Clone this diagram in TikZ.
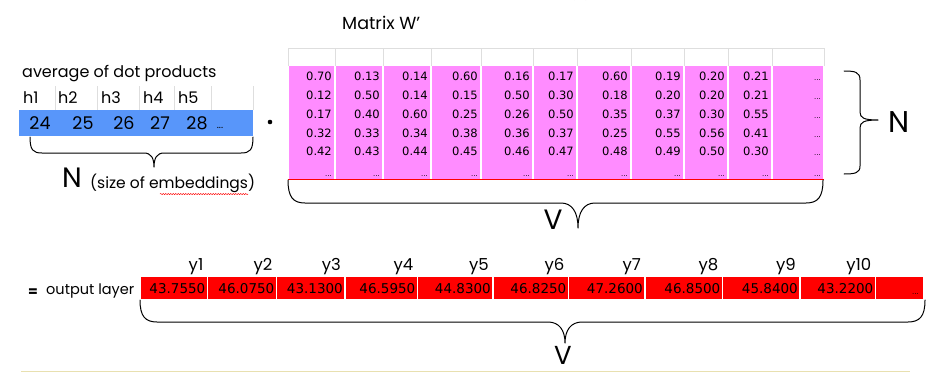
\documentclass[tikz,border=0pt]{standalone}
\usepackage{fontspec}
\usetikzlibrary{decorations.pathmorphing}
\setmainfont{Poppins}
\newfontfamily\numfont{DejaVu Sans}
\definecolor{pinkc}{RGB}{255,140,255}
\definecolor{bluec}{RGB}{88,150,250}
\definecolor{gridc}{RGB}{222,222,222}
\definecolor{rulec}{RGB}{232,224,176}
\begin{document}
\begin{tikzpicture}[x=1pt,y=-1pt,
  mnum/.style={font=\numfont\fontsize{11.5}{12}\selectfont, anchor=east, inner sep=0pt},
  mdots/.style={font=\numfont\fontsize{7}{8}\selectfont, anchor=base east, inner sep=0pt},
  onum/.style={font=\numfont\fontsize{13.5}{14}\selectfont, anchor=east, inner sep=0pt},
  ylab/.style={font=\fontsize{16.5}{17}\selectfont, anchor=east, inner sep=0pt},
  lbl/.style={font=\fontsize{16}{17}\selectfont, inner sep=0pt},
  vnum/.style={font=\fontsize{17.5}{18}\selectfont, inner sep=0pt},
  big/.style={font=\fontsize{28}{30}\selectfont, inner sep=0pt},
  bracep/.style={draw, line width=1pt, line cap=round, line join=round}]
\useasboundingbox (0,0) rectangle (936,372);

% ---------- left vector ----------
\node[lbl, anchor=west] (avg) at (22,74) {average of dot products};
\foreach \x in {55,97,139,174,211,253}
  \draw[gridc, line width=0.8pt] (\x,86) -- (\x,110);
\foreach \x/\t [count=\i] in {23/h1,58/h2,101/h3,143/h4,178/h5}
  \node[lbl, anchor=west] (h\i) at (\x,98) {\t};
\fill[bluec] (19,110) rectangle (253,136);
\foreach \x/\t [count=\i] in {40/24,83/25,124/26,160/27,197/28}
  \node[vnum] (v\i) at (\x,123) {\t};
\node[font=\fontsize{10}{11}\selectfont, inner sep=0pt, anchor=base] (vdots) at (220,128) {...};
\fill (270,122) circle (2.3);
\draw[bracep] (30,137) .. controls (30,150) and (33,153) .. (42,153) -- (144,153)
  .. controls (151,153) and (154,158) .. (154,167)
  .. controls (154,158) and (157,153) .. (164,153) -- (241,153)
  .. controls (250,153) and (253,150) .. (253,137);
\node[big, anchor=center] (nleft) at (72,178) {N};
\node[font=\fontsize{15.5}{16}\selectfont, inner sep=0pt, anchor=west] (size) at (90,183) {(size of embeddings)};
\draw[red, line width=0.5pt, decorate, decoration={snake, amplitude=0.6pt, segment length=2.5pt}]
  (size.south west) ++(70,1.5) -- ++(88,0);

% ---------- matrix ----------
\node[font=\fontsize{17.5}{18}\selectfont, inner sep=0pt, anchor=west] (mtitle) at (342,23) {Matrix W'};
\draw[gray!50, line width=0.6pt] (586,0) arc (0:-180:6);
\draw[gridc, line width=0.8pt] (288,48) -- (824,48);
\foreach \x in {288,335,383,431,481,533,577,631,684,728,772,824}
  \draw[gridc, line width=0.8pt] (\x,48) -- (\x,66);
\foreach \l/\r in {288/335,335/383,383/431,431/481,481/533,533/577,577/631,631/684,684/728,728/772,772/824}
  \fill[pinkc] (\l+0.7,66) rectangle (\r-0.7,179);
\draw[red, line width=0.9pt] (288,179) -- (824,179);
\foreach \r/\a/\b/\c/\d/\e [count=\i] in {
  335/0.70/0.12/0.17/0.32/0.42,
  383/0.13/0.50/0.40/0.33/0.43,
  431/0.14/0.14/0.60/0.34/0.44,
  481/0.60/0.15/0.25/0.38/0.45,
  533/0.16/0.50/0.26/0.36/0.46,
  577/0.17/0.30/0.50/0.37/0.47,
  631/0.60/0.18/0.35/0.25/0.48,
  684/0.19/0.20/0.37/0.55/0.49,
  728/0.20/0.20/0.30/0.56/0.50,
  772/0.21/0.21/0.55/0.41/0.30}{
  \node[mnum] (m\i-1) at (\r-3,76) {\a};
  \node[mnum] (m\i-2) at (\r-3,95) {\b};
  \node[mnum] (m\i-3) at (\r-3,114) {\c};
  \node[mnum] (m\i-4) at (\r-3,133) {\d};
  \node[mnum] (m\i-5) at (\r-3,151) {\e};
  \node[mdots] (m\i-6) at (\r-3,176) {...};
}
\foreach \y [count=\j] in {80,99,118,137,155,176}
  \node[mdots] (m11-\j) at (821,\y) {...};
\draw[bracep] (288,180) .. controls (288,197) and (293,203) .. (305,203) -- (561,203)
  .. controls (572,203) and (578,212) .. (578,228)
  .. controls (578,212) and (584,203) .. (595,203) -- (806,203)
  .. controls (818,203) and (823,197) .. (823,180);
\node[big] (vmat) at (553,220) {V};
\draw[bracep] (844,71) .. controls (855,71) and (860,72) .. (860,80) -- (860,112)
  .. controls (860,118) and (864,120) .. (878,120)
  .. controls (864,120) and (860,122) .. (860,128) -- (860,166)
  .. controls (860,173) and (855,174) .. (844,174);
\node[font=\fontsize{30}{32}\selectfont, inner sep=0pt] (nright) at (899,122) {N};

% ---------- output layer ----------
\node[font=\bfseries\fontsize{14}{15}\selectfont, inner sep=0pt] (eq) at (33,293) {=};
\node[font=\fontsize{14.5}{15}\selectfont, inner sep=0pt, anchor=west] (out) at (46,291) {output layer};
\foreach \l/\r/\v/\t [count=\i] in {
  140/207.5/43.7550/y1, 207.5/276.5/46.0750/y2, 276.5/345/43.1300/y3,
  345/417.5/46.5950/y4, 417.5/493/44.8300/y5, 493/568.5/46.8250/y6,
  568.5/645/47.2600/y7, 645/722.5/46.8500/y8, 722.5/800/45.8400/y9,
  800/875.5/43.2200/y10}{
  \fill[red] (\l+0.6,277) rectangle (\r-0.6,299);
  \node[onum] (o\i) at (\r-2,288.5) {\v};
  \node[ylab] (y\i) at (\r-4,267) {\t};
}
\fill[red] (876.1,277) rectangle (923,299);
\node[mdots] (o11) at (919,294) {...};
\draw[bracep] (140,300) .. controls (140,316) and (145,322) .. (157,322) -- (548,322)
  .. controls (559,322) and (565,330) .. (565,343)
  .. controls (565,330) and (571,322) .. (582,322) -- (908,322)
  .. controls (920,322) and (925,316) .. (925,300);
\node[font=\fontsize{26}{28}\selectfont, inner sep=0pt, anchor=base] (vout) at (563,364) {V};
\draw[rulec, line width=1pt] (21,371) -- (910,371);
\end{tikzpicture}
\end{document}
